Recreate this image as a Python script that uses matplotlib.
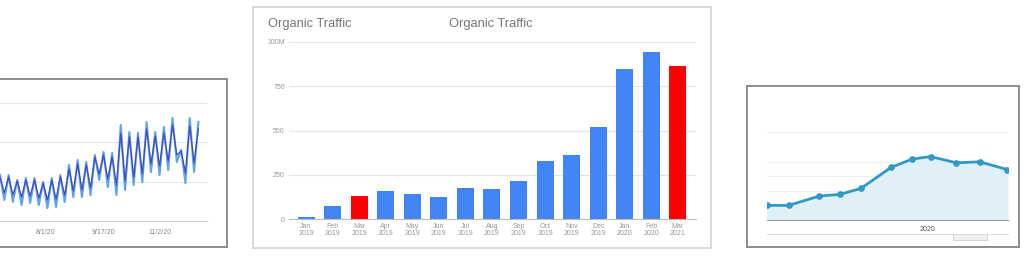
import matplotlib
matplotlib.use("Agg")
import matplotlib.pyplot as plt
from matplotlib.patches import Rectangle
from matplotlib.lines import Line2D
import pandas as pd

plt.rcParams['font.family'] = ['Liberation Sans', 'DejaVu Sans']

# --- left panel: daily clicks (half-week samples) ---
left_dates = pd.date_range("2020-06-25", periods=47, freq="84h")
left_light = [46, 21, 46, 19, 41, 16, 43, 18, 43, 16, 39, 13, 43, 14, 46, 19,
              56, 24, 61, 24, 59, 26, 66, 41, 69, 34, 68, 26, 96, 31, 89, 36,
              88, 39, 99, 49, 89, 46, 94, 51, 103, 59, 71, 38, 103, 49, 99]
left_dark = [44, 28, 44, 26, 40, 24, 41, 25, 41, 23, 38, 21, 41, 22, 44, 26,
             52, 30, 57, 31, 56, 33, 64, 47, 66, 42, 64, 36, 88, 40, 84, 44,
             84, 47, 92, 57, 85, 55, 88, 60, 96, 66, 70, 48, 95, 58, 92]
left_ticks = ["2020-08-01", "2020-09-17", "2020-11-02"]
left_ticklabels = ["8/1/20", "9/17/20", "11/2/20"]

# --- center panel: monthly organic traffic ---
months = ["Jan\n2019", "Feb\n2019", "Mar\n2019", "Apr\n2019", "May\n2019",
          "Jun\n2019", "Jul\n2019", "Aug\n2019", "Sep\n2019", "Oct\n2019",
          "Nov\n2019", "Dec\n2019", "Jan\n2020", "Feb\n2020", "Mar\n2021"]
traffic = [11, 71, 128, 161, 144, 124, 176, 171, 214, 325, 360, 518, 850, 944, 863]
highlight = [False, False, True, False, False, False, False, False, False,
             False, False, False, False, False, True]
y_ticks = [0, 250, 500, 750, 1000]
y_ticklabels = ["0", "250", "500", "750", "100M"]

# --- right panel: area line ---
right_x = [0, 3.3, 7.9, 11, 14.2, 18.7, 21.9, 24.7, 28.6, 32.1, 36.3]
right_y = [1000, 1000, 1640, 1750, 2160, 3590, 4160, 4340, 3910, 3980, 3450]
right_grid = [2000, 3000, 4000, 6000]

W, H = 1024, 256


def fx(x):
    return x / W


def fy(y):
    return 1 - y / H


def axes_px(fig, x0, y0, x1, y1):
    return fig.add_axes([fx(x0), fy(y1), (x1 - x0) / W, (y1 - y0) / H])


def frame(fig, x0, y0, x1, y1, color, lw):
    fig.add_artist(Rectangle((fx(x0), fy(y1)), (x1 - x0) / W, (y1 - y0) / H,
                             transform=fig.transFigure, fill=False,
                             edgecolor=color, lw=lw))


fig = plt.figure(figsize=(10.24, 2.56), dpi=100)
fig.patch.set_facecolor("white")

# frames
frame(fig, -5, 79, 227, 247, "#8c8c8c", 1.4)
frame(fig, 253, 7, 711, 248, "#d2d2d2", 1.2)
frame(fig, 747, 86, 1019, 247, "#8c8c8c", 1.4)

# left panel
ax1 = axes_px(fig, 0, 95, 207, 221)
ax1.plot(left_dates, left_light, color="#62a2ea", lw=1.5)
ax1.plot(left_dates, left_dark, color="#3f4bc4", lw=0.9)
ax1.set_xlim(pd.Timestamp("2020-06-25"), pd.Timestamp("2020-06-25") + pd.Timedelta(days=168))
ax1.set_ylim(0, 126)
ax1.set_yticks([39.5, 79, 118.5])
ax1.set_yticklabels([])
ax1.grid(axis="y", color="#e6e6e6", lw=0.8)
ax1.set_xticks(pd.to_datetime(left_ticks))
ax1.set_xticklabels(left_ticklabels, fontsize=5, color="#888888")
ax1.tick_params(length=0, pad=6)
for s in ["top", "right", "left"]:
    ax1.spines[s].set_visible(False)
ax1.spines["bottom"].set_color("#cfcfcf")

# center panel
ax2 = axes_px(fig, 289, 42, 696, 219)
colors = ["#ff0000" if h else "#4285f4" for h in highlight]
ax2.bar(range(len(traffic)), traffic, width=0.64, color=colors, zorder=3)
ax2.set_xlim(-0.64, 14.68)
ax2.set_ylim(0, 1000)
ax2.set_yticks(y_ticks)
ax2.set_yticklabels(y_ticklabels, fontsize=5, color="#999999")
ax2.set_xticks(range(len(months)))
ax2.set_xticklabels(months, fontsize=5, color="#999999", linespacing=1.0)
ax2.tick_params(length=0, pad=3)
ax2.grid(axis="y", color="#e4e4e4", lw=0.8, zorder=0)
for s in ["top", "right", "left"]:
    ax2.spines[s].set_visible(False)
ax2.spines["bottom"].set_color("#bdbdbd")
ax2.spines["bottom"].set_zorder(4)
fig.text(fx(268), fy(24.5), "Organic Traffic", fontsize=9.3, color="#777777", va="center")
fig.text(fx(491), fy(24.5), "Organic Traffic", fontsize=9.3, color="#777777", va="center", ha="center")

# right panel
ax3 = axes_px(fig, 767, 103, 1008, 220)
ax3.fill_between(right_x, right_y, 0, color="#dff0f9", zorder=2)
ax3.plot(right_x, right_y, color="#3398c3", lw=2.0, marker="o", markersize=3.8, zorder=3)
ax3.set_xlim(0, 36.4)
ax3.set_ylim(0, 8000)
ax3.set_yticks(right_grid)
ax3.set_yticklabels([])
ax3.grid(axis="y", color="#eeeeee", lw=0.8, zorder=0)
ax3.set_xticks([24.2])
ax3.set_xticklabels(["2020"], fontsize=5, color="#555555")
ax3.tick_params(length=0, pad=4)
for s in ["top", "right", "left"]:
    ax3.spines[s].set_visible(False)
ax3.spines["bottom"].set_color("#9a9a9a")

# scroll bar under the right chart
fig.add_artist(Line2D([fx(767), fx(1008)], [fy(234), fy(234)], transform=fig.transFigure,
                      color="#dddddd", lw=0.8))
fig.add_artist(Rectangle((fx(953), fy(240)), 34 / W, 6 / H, transform=fig.transFigure,
                         facecolor="#f0f0f0", edgecolor="#cccccc", lw=0.6))

fig.savefig("out.png", dpi=100)
